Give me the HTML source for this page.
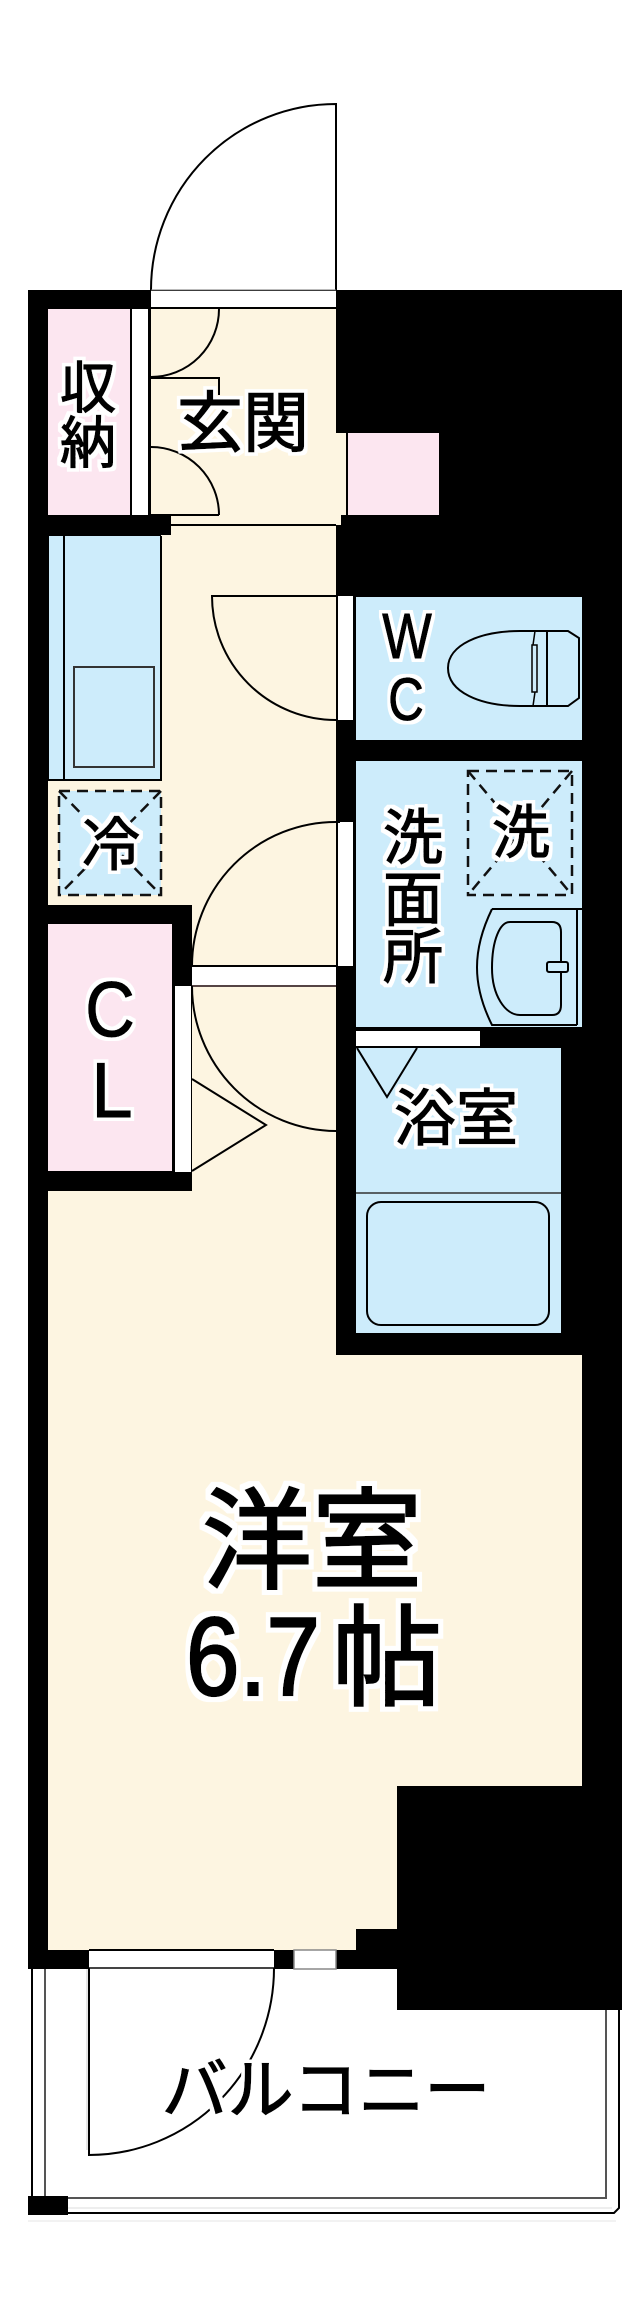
<!DOCTYPE html>
<html lang="ja">
<head>
<meta charset="utf-8">
<title>間取り図</title>
<style>
html,body{margin:0;padding:0;background:#fff}
svg{display:block}
.j{font-family:"Liberation Sans","Noto Sans CJK JP",sans-serif;fill:#050505;stroke:#050505;stroke-width:1.3;text-anchor:middle;filter:url(#h)}
.l{font-family:"Liberation Sans",sans-serif;fill:#050505;stroke:#050505;stroke-width:1.1;text-anchor:middle;filter:url(#h)}
.big{stroke-width:2.2;filter:url(#H)}
.k{fill:none;stroke:#000;stroke-width:2}
.d{fill:none;stroke:#111;stroke-width:2.5;stroke-dasharray:11 7}
</style>
</head>
<body>
<svg width="642" height="2322" viewBox="0 0 642 2322" xmlns="http://www.w3.org/2000/svg">
<defs>
<filter id="h" x="-30%" y="-30%" width="160%" height="160%">
<feMorphology in="SourceAlpha" operator="dilate" radius="3.5" result="m"/>
<feFlood flood-color="#fff"/>
<feComposite in2="m" operator="in" result="w"/>
<feMerge><feMergeNode in="w"/><feMergeNode in="SourceGraphic"/></feMerge>
</filter>
<filter id="H" x="-20%" y="-20%" width="140%" height="140%">
<feMorphology in="SourceAlpha" operator="dilate" radius="5" result="m"/>
<feFlood flood-color="#fff"/>
<feComposite in2="m" operator="in" result="w"/>
<feMerge><feMergeNode in="w"/><feMergeNode in="SourceGraphic"/></feMerge>
</filter>
</defs>
<rect width="642" height="2322" fill="#fff"/>

<!-- Balcony lines -->
<path d="M45 1969V2198H606V2010" fill="none" stroke="#555" stroke-width="2"/>
<path d="M32 1969V2213H614L619 2208V2010" class="k"/>
<path d="M68 2208H612" stroke="#ddd" stroke-width="1" fill="none"/>
<path d="M28 2221H616" stroke="#f2f2f2" stroke-width="2" fill="none"/>
<rect x="28" y="2196" width="40" height="19" fill="#000"/>

<!-- Building mass -->
<path d="M28 290H622V2010H397V1969H28Z" fill="#000"/>

<!-- Cream floor -->
<path d="M151 309H336V1355H582V1786H397V1929H356V1950H48V1191H192V905H48V780H161V535H171V515H151Z" fill="#fdf5e1"/>
<rect x="336" y="433" width="12" height="82" fill="#fdf5e1"/>
<rect x="336" y="515" width="5" height="10" fill="#fdf5e1"/>
<rect x="48" y="515" width="123" height="20" fill="#000"/>

<!-- Pink rooms -->
<rect x="48" y="309" width="82" height="206" fill="#fce6f0"/>
<rect x="348" y="433" width="91" height="82" fill="#fce6f0"/>
<path d="M347 433V515" class="k"/>
<rect x="132" y="309" width="16" height="206" fill="#fff"/>

<!-- Entry door -->
<rect x="151" y="291" width="185" height="16" fill="#fff"/>
<path d="M151 308H336" class="k"/>
<path d="M151 290A185 186 0 0 1 336 104V290" class="k"/>
<path d="M151 290H336" stroke="#777" stroke-width="1" fill="none"/>

<!-- Storage doors -->
<path d="M219 309A68 68 0 0 1 151 377" class="k"/>
<path d="M151 378H219V395" class="k"/>
<path d="M151 447A68 68 0 0 1 219 515" class="k"/>
<path d="M151 515H219" class="k"/>
<path d="M171 525H336" class="k"/>

<!-- Kitchen -->
<rect x="49" y="536" width="112" height="244" fill="#cdecfb"/>
<path d="M64 536V780" class="k"/>
<path d="M161 536V781M48 780H162" class="k"/>
<rect x="74" y="667" width="80" height="100" fill="none" stroke="#333" stroke-width="2"/>

<!-- Fridge -->
<rect x="59" y="791" width="102" height="104" fill="#cdecfb"/>
<rect x="59" y="791" width="102" height="104" class="d"/>
<path d="M59 791L161 895M161 791L59 895" class="d"/>

<!-- Closet -->
<rect x="48" y="905" width="144" height="19" fill="#000"/>
<rect x="172" y="905" width="20" height="81" fill="#000"/>
<rect x="48" y="924" width="124" height="247" fill="#fce6f0"/>
<rect x="175" y="986" width="16" height="186" fill="#fff"/>
<rect x="172" y="986" width="3" height="186" fill="#000"/>
<rect x="191" y="986" width="1" height="186" fill="#000"/>
<rect x="48" y="1172" width="144" height="19" fill="#000"/>
<path d="M192 1079L266 1125L192 1171" class="k"/>

<!-- WC -->
<rect x="356" y="597" width="226" height="143" fill="#cdecfb"/>
<rect x="338" y="596" width="15" height="124" fill="#fff"/>
<path d="M336 596H212A124 124 0 0 0 336 720" class="k"/>
<path d="M568 631H520C480 631 448 645 448 668C448 692 480 706 520 706H568L579 698V638Z" class="k"/>
<path d="M547 631V706" class="k"/>
<rect x="532" y="645" width="5" height="47" fill="none" stroke="#000" stroke-width="1.5"/>
<path d="M535 631L533 645M535 692L533 706" fill="none" stroke="#000" stroke-width="1.5"/>

<!-- Washroom -->
<rect x="356" y="761" width="226" height="266" fill="#cdecfb"/>
<rect x="468" y="771" width="104" height="124" class="d"/>
<path d="M468 771L572 895M572 771L468 895" class="d"/>
<rect x="338" y="822" width="15" height="144" fill="#fff"/>
<path d="M492 909H582M577 909V1025M492 909C472 950 472 985 492 1025H577" class="k"/>
<path d="M510 922H552Q561 922 561 932V1005Q561 1015 552 1015H520C505 1015 492 995 492 968C492 940 500 922 510 922Z" class="k"/>
<rect x="547" y="962" width="21" height="10" rx="2" fill="#cdecfb" stroke="#000" stroke-width="2"/>

<!-- Door lines to corridor -->
<rect x="192" y="967" width="144" height="19" fill="#fff"/>
<path d="M192 966H336" class="k"/>
<path d="M192 986H336" stroke="#544" stroke-width="2" fill="none"/>
<path d="M340 822H336A144 144 0 0 0 192 966" class="k"/>
<path d="M192 986A145 145 0 0 0 336 1131" class="k"/>

<!-- Bath -->
<rect x="490" y="1027" width="92" height="21" fill="#000"/>
<rect x="356" y="1027" width="134" height="21" fill="#000"/>
<rect x="356" y="1031" width="124" height="15" fill="#fff"/>
<rect x="356" y="1048" width="205" height="285" fill="#cdecfb"/>
<path d="M356 1193H561" stroke="#333" stroke-width="1.5" fill="none"/>
<path d="M357 1048L387 1097L417 1048" class="k"/>
<rect x="367" y="1202" width="182" height="123" rx="14" fill="none" stroke="#000" stroke-width="2"/>

<!-- Balcony door / window -->
<rect x="89" y="1951" width="185" height="16" fill="#fff"/>
<path d="M89 1950H274" class="k"/>
<path d="M89 1968H274" stroke="#444" stroke-width="2" fill="none"/>
<rect x="294" y="1950" width="42" height="19" fill="#fff" stroke="#888" stroke-width="1.5"/>
<path d="M89 1968V2155A185 187 0 0 0 274 1968" class="k"/>
<path d="M87 1969V2150" stroke="#ccc" stroke-width="1" fill="none"/>

<!-- Labels -->
<text class="j" x="88" y="408" font-size="56">収</text>
<text class="j" x="88" y="463" font-size="56">納</text>
<text class="j" x="243" y="446" font-size="66">玄関</text>

<text class="l" transform="translate(407 658) scale(.82 1)" font-size="64">W</text>
<text class="l" transform="translate(406 720) scale(.82 1)" font-size="60">C</text>

<text class="j" x="111" y="865" font-size="58">冷</text>
<text class="j" x="521" y="853" font-size="58">洗</text>

<text class="j" x="413" y="859" font-size="60">洗</text>
<text class="j" x="413" y="921" font-size="60">面</text>
<text class="j" x="413" y="978" font-size="60">所</text>

<text class="l" transform="translate(110 1036) scale(.88 1)" font-size="78">C</text>
<text class="l" transform="translate(112 1117) scale(.95 1)" font-size="78">L</text>

<text class="j" x="456" y="1140" font-size="62">浴室</text>

<text class="j big" x="312" y="1580" font-size="110">洋室</text>
<text class="l big" transform="translate(253 1695) scale(.87 1)" font-size="111">6.7</text>
<text class="j big" x="387" y="1697" font-size="110">帖</text>

<text class="j" x="326" y="2113" font-size="66">バルコニー</text>
</svg>
</body>
</html>
